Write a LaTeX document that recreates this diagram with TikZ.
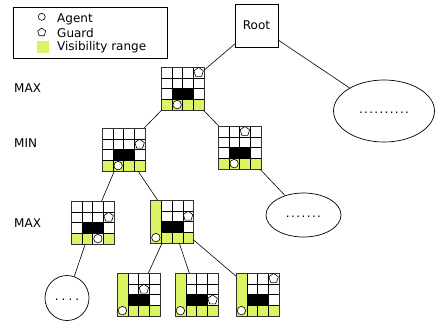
\documentclass[tikz,border=0pt]{standalone}
\usepackage{fontspec}
\setmainfont{DejaVu Sans}
\usetikzlibrary{shapes.geometric}
\definecolor{visgreen}{RGB}{218,245,100}
% #1 name, #2 x, #3 y, #4 guard col, #5 guard row, #6 agent col, #7 type
% type 0: green bottom row; 1: green bottom row + left column; 2: agent cell white
\newcommand{\stategrid}[7]{%
\begin{scope}[shift={(#2,#3)}]
  \fill[visgreen] (0,32.25) rectangle (43,43);
  \ifnum#7=1 \fill[visgreen] (0,0) rectangle (10.75,43);\fi
  \ifnum#7=2 \fill[white] ({(#6-1)*10.75},32.25) rectangle ++(10.75,10.75);\fi
  \fill[black] (10.75,21.5) rectangle (32.25,32.25);
  \foreach \k in {10.75,21.5,32.25}{\draw[cellline] (\k,0) -- (\k,43);}
  \ifnum#7=1
    \foreach \k in {10.75,21.5,32.25}{\draw[cellline] (10.75,\k) -- (43,\k);}
  \else
    \foreach \k in {10.75,21.5,32.25}{\draw[cellline] (0,\k) -- (43,\k);}
  \fi
  \node[gridframe] (#1) at (21.5,21.5) {};
  \node[agent] (#1-a) at ({(#6-0.5)*10.75},37.625) {};
  \node[guard] (#1-g) at ({(#4-0.5)*10.75},{(#5-0.5)*10.75}) {};
\end{scope}}
\newcommand{\dotrun}[2]{\strut\foreach \i in {1,...,#1}{.\ifnum\i<#1\kern#2\fi}}
\begin{document}
\begin{tikzpicture}[x=1pt,y=-1pt,
  every node/.style={font=\fontsize{12}{14}\selectfont},
  cellline/.style={draw=black,line width=0.5pt},
  gridframe/.style={draw=black!80,line width=0.9pt,minimum width=43pt,minimum height=43pt,inner sep=0pt,outer sep=0pt},
  agent/.style={circle,draw=black,fill=white,line width=0.6pt,minimum size=8.5pt,inner sep=0pt},
  guard/.style={regular polygon,regular polygon sides=5,draw=black,fill=white,line width=0.6pt,minimum size=10pt,inner sep=0pt},
  edge/.style={draw=black,line width=0.6pt},
  bubble/.style={ellipse,draw=black,line width=0.7pt,inner sep=0pt},
  level/.style={anchor=west}]
\useasboundingbox (0,0) rectangle (435,325);
% legend
\node[draw=black,line width=0.8pt,minimum width=154pt,minimum height=51pt,inner sep=0pt,anchor=north west] (legend) at (13,7) {};
\node[agent,minimum size=7pt] (lega) at (41.7,16.8) {};
\node[guard,minimum size=8.5pt] (legg) at (41.7,32.3) {};
\node[draw=none,fill=visgreen,minimum size=12pt,inner sep=0pt] (legv) at (43,46.5) {};
\node[anchor=base west,inner sep=0pt] (legat) at (57,22.1) {Agent};
\node[anchor=base west,inner sep=0pt] (leggt) at (57,37) {Guard};
\node[anchor=base west,inner sep=0pt] (legvt) at (57,50.6) {Visibility range};
% level labels
\node[level,inner sep=0pt] (l1) at (14,88) {MAX};
\node[level,inner sep=0pt] (l2) at (14,143.5) {MIN};
\node[level,inner sep=0pt] (l3) at (14,223) {MAX};
% root
\node[draw=black,line width=0.8pt,minimum size=43pt,inner sep=0pt,outer sep=0pt] (root) at (256.5,25.5) {Root};
% grids
\stategrid{G1}{161}{67}{4}{1}{2}{0}
\stategrid{G2}{102}{128}{4}{2}{2}{0}
\stategrid{G3}{218}{126}{3}{1}{2}{0}
\stategrid{G4}{71}{201}{4}{2}{3}{2}
\stategrid{G5}{150.5}{200}{4}{2}{1}{1}
\stategrid{G6}{117}{273}{3}{2}{1}{1}
\stategrid{G7}{175}{273}{4}{3}{1}{1}
\stategrid{G8}{236}{273}{4}{1}{1}{1}
% ellipses
\node[bubble,minimum width=101pt,minimum height=62pt] (E1) at (384,111) {\dotrun{10}{1.3pt}};
\node[bubble,minimum width=75pt,minimum height=44pt] (E2) at (303.5,215) {\dotrun{7}{1.4pt}};
\node[bubble,minimum width=44pt,minimum height=45pt] (E3) at (67,298) {\dotrun{4}{3pt}};
% connectors
\draw[edge] (root) -- (G1);
\draw[edge] (root) -- (E1);
\draw[edge] (G1) -- (G2);
\draw[edge] (G1) -- (G3);
\draw[edge] (G2) -- (G4);
\draw[edge] (G2) -- (G5);
\draw[edge] (G3) -- (E2);
\draw[edge] (G4) -- (E3);
\draw[edge] (G5) -- (G6);
\draw[edge] (G5) -- (G7);
\draw[edge] (G5) -- (G8);
\end{tikzpicture}
\end{document}
